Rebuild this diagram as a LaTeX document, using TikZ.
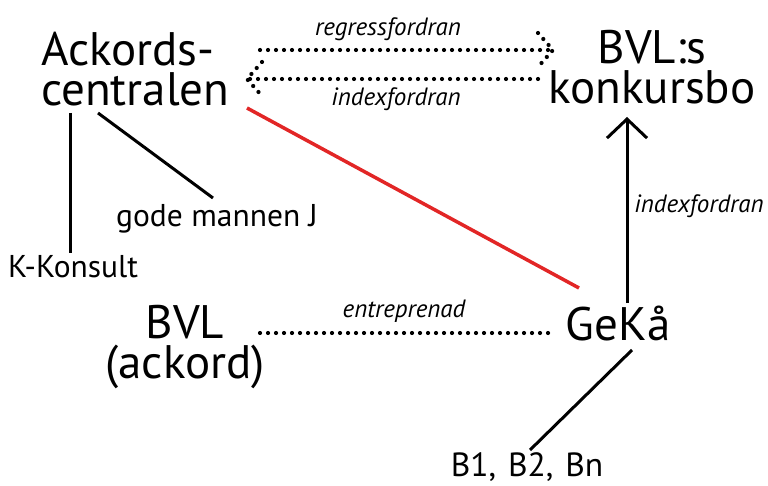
\documentclass[tikz,border=0pt]{standalone}
\usepackage{fontspec}
\setmainfont{PT Sans}
\usetikzlibrary{arrows.meta,calc}
\definecolor{linered}{RGB}{226,38,38}
\newcommand{\topstrut}{\rule{0pt}{34pt}}
\tikzset{
  big/.style={font=\fontsize{47}{40}\selectfont, inner sep=0pt, anchor=north},
  mid/.style={font=\fontsize{31.5}{31.5}\selectfont, inner sep=0pt, anchor=base},
  lab/.style={font=\fontsize{25}{25}\selectfont\itshape, inner sep=0pt, anchor=base},
  solid line/.style={line width=3pt, black},
  dotline/.style={line width=4.2pt, line cap=round, dash pattern=on 0pt off 8pt, black},
  redline/.style={line width=3.5pt, linered},
  barb/.style={-{Straight Barb[length=19pt,width=40pt,line width=3pt]}}
}
\begin{document}
\begin{tikzpicture}[x=1pt,y=-1pt]
\useasboundingbox (0,0) rectangle (768,486);
% texts
\node[big, anchor=north west, align=left] (ack) at (41,31) {\topstrut Ackords-\\centralen};
\node[big, align=center] (bvls) at (652,29) {\topstrut BVL:s\\konkursbo};
\node[big, align=center] (bvl) at (185,304) {\topstrut BVL\\(ackord)};
\node[big, anchor=base] (geka) at (618,340) {GeKå};
\node[mid] (gode) at (217,227) {gode mannen J};
\node[mid] (kkon) at (73,277) {K-Konsult};
\node[mid, font=\fontsize{33.5}{33.5}\selectfont] (bb) at (527,476) {B1,\hspace{3pt} B2,\hspace{3pt} Bn};
\node[lab] (lreg) at (388,36) {regressfordran};
\node[lab] (lidx) at (396,106) {indexfordran};
\node[lab] (lidx2) at (699,213) {indexfordran};
\node[lab] (lent) at (404,317) {entreprenad};
% coordinates
\coordinate (t1) at (260,50);
\coordinate (t2) at (553,50);
\coordinate (b1) at (538,79);
\coordinate (b2) at (247,79);
\coordinate (e1) at (260,333);
\coordinate (e2) at (548,333);
\coordinate (vA) at (627,303);
\coordinate (vB) at (627,117);
\coordinate (ra) at (247,108);
\coordinate (rb) at (579,288);
\coordinate (ka) at (70,113);
\coordinate (kb) at (70,253);
\coordinate (ga) at (98,113);
\coordinate (gb) at (213,198);
\coordinate (bga) at (632,350);
\coordinate (bgb) at (530,450);
% dotted arrows
\draw[dotline] (t1) -- (t2);
\draw[dotline] ($(t2)+(-15,-17)$) -- (t2) -- ($(t2)+(-15,17)$);
\draw[dotline] (b1) -- (b2);
\draw[dotline] ($(b2)+(15,-17)$) -- (b2) -- ($(b2)+(15,17)$);
\draw[dotline] (e1) -- (e2);
% solid lines
\draw[solid line, barb] (vA) -- (vB);
\draw[redline] (ra) -- (rb);
\draw[solid line] (ka) -- (kb);
\draw[solid line] (ga) -- (gb);
\draw[solid line] (bga) -- (bgb);
\end{tikzpicture}
\end{document}
